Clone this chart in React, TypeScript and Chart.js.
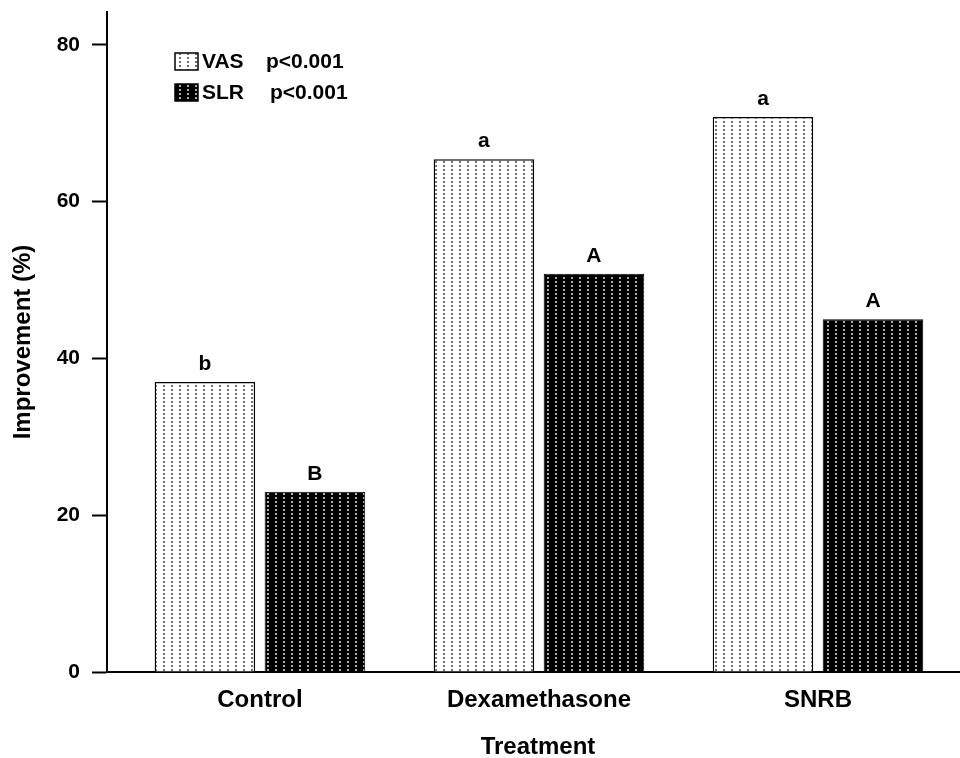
import React, { useEffect, useRef } from 'react';
import { Chart, registerables } from 'chart.js';
Chart.register(...registerables);

const categories = ['Control', 'Dexamethasone', 'SNRB'];
const vasValues = [37.0, 65.4, 70.8];
const slrValues = [23.0, 50.8, 45.0];
const vasLetters = ['b', 'a', 'a'];
const slrLetters = ['B', 'A', 'A'];
const yTicks = [0, 20, 40, 60, 80];
const legendLabels = ['VAS', 'SLR'];
const legendStats = ['p<0.001', 'p<0.001'];
const yTitle = 'Improvement (%)';
const xTitle = 'Treatment';

const FONT = '"Liberation Sans", Arial, Helvetica, sans-serif';

function makePattern(bg: string, dot: string): CanvasPattern {
  const c = document.createElement('canvas');
  c.width = 8;
  c.height = 4;
  const g = c.getContext('2d')!;
  g.fillStyle = bg;
  g.fillRect(0, 0, 8, 4);
  g.fillStyle = dot;
  g.fillRect(3, 1, 2, 2);
  return g.createPattern(c, 'repeat')!;
}

export default function App() {
  const ref = useRef<HTMLCanvasElement>(null);

  useEffect(() => {
    const canvas = ref.current!;
    const vasPat = makePattern('#ffffff', '#6e6e6e');
    const slrPat = makePattern('#000000', '#aaaaaa');

    const annot = {
      id: 'annot',
      afterDatasetsDraw(chart: any) {
        const ctx = chart.ctx as CanvasRenderingContext2D;
        ctx.save();
        ctx.fillStyle = '#000';
        ctx.font = `bold 21px ${FONT}`;
        ctx.textAlign = 'center';
        ctx.textBaseline = 'alphabetic';
        [vasLetters, slrLetters].forEach((letters, di) => {
          const meta = chart.getDatasetMeta(di);
          meta.data.forEach((bar: any, i: number) => {
            ctx.fillText(letters[i], bar.x, bar.y - 12);
          });
        });

        // legend
        const pats = [vasPat, slrPat];
        const rowY = [61, 92];
        const statX = [266, 270];
        ctx.textAlign = 'left';
        ctx.textBaseline = 'middle';
        legendLabels.forEach((lab, i) => {
          const y = rowY[i];
          ctx.fillStyle = pats[i];
          ctx.fillRect(175, y - 8, 23, 17);
          ctx.strokeStyle = '#000';
          ctx.lineWidth = 1.5;
          ctx.strokeRect(175, y - 8, 23, 17);
          ctx.fillStyle = '#000';
          ctx.fillText(lab, 202, y + 1);
          ctx.fillText(legendStats[i], statX[i], y + 1);
        });

        // titles
        ctx.font = `bold 24px ${FONT}`;
        ctx.textAlign = 'center';
        ctx.textBaseline = 'middle';
        ctx.fillText(xTitle, 538, 747);
        ctx.save();
        ctx.translate(23, 342);
        ctx.rotate(-Math.PI / 2);
        ctx.fillText(yTitle, 0, 0);
        ctx.restore();
        ctx.restore();
      },
    };

    const chart = new Chart(canvas, {
      type: 'bar',
      data: {
        labels: categories,
        datasets: [
          {
            label: legendLabels[0],
            data: vasValues.map((v, i) => ({ x: i, y: v })),
            backgroundColor: vasPat,
            borderColor: '#000',
            borderWidth: 1.5,
            borderSkipped: 'bottom',
          },
          {
            label: legendLabels[1],
            data: slrValues.map((v, i) => ({ x: i, y: v })),
            backgroundColor: slrPat,
            borderColor: '#000',
            borderWidth: 1,
            borderSkipped: 'bottom',
          },
        ],
      } as any,
      options: {
        responsive: false,
        animation: false,
        categoryPercentage: 0.7885,
        barPercentage: 0.914,
        layout: { padding: { top: 12, right: 0, left: 0, bottom: 0 } },
        plugins: { legend: { display: false }, tooltip: { enabled: false } },
        scales: {
          x: {
            type: 'linear',
            offset: false,
            min: -0.548,
            max: 2.509,
            grid: { display: false, drawTicks: false, offset: false },
            border: { display: true, color: '#000', width: 2 },
            afterBuildTicks: (s: any) => {
              s.ticks = categories.map((_, i) => ({ value: i }));
            },
            afterFit: (s: any) => {
              s.height = 86;
              s.paddingLeft = 0;
              s.paddingRight = 0;
            },
            ticks: {
              autoSkip: false,
              maxRotation: 0,
              padding: 14,
              color: '#000',
              font: { family: FONT, size: 24, weight: 'bold' },
              callback: (v: any) => categories[Math.round(v)] ?? '',
            },
          },
          y: {
            min: 0,
            max: 84.2,
            grid: {
              display: true,
              drawOnChartArea: false,
              drawTicks: true,
              tickLength: 15,
              tickColor: '#000',
              tickWidth: 2,
            },
            border: { display: true, color: '#000', width: 2 },
            afterBuildTicks: (s: any) => {
              s.ticks = yTicks.map((v) => ({ value: v }));
            },
            afterFit: (s: any) => {
              s.width = 107;
              s.paddingTop = 0;
              s.paddingBottom = 0;
            },
            ticks: {
              padding: 12,
              color: '#000',
              font: { family: FONT, size: 21, weight: 'bold' },
            },
          },
        },
      } as any,
      plugins: [annot],
    });
    return () => chart.destroy();
  }, []);

  return (
    <div style={{ position: 'absolute', left: 0, top: 0, width: 960, height: 758, background: '#fff' }}>
      <canvas ref={ref} width={960} height={758} style={{ width: 960, height: 758, display: 'block' }} />
    </div>
  );
}
